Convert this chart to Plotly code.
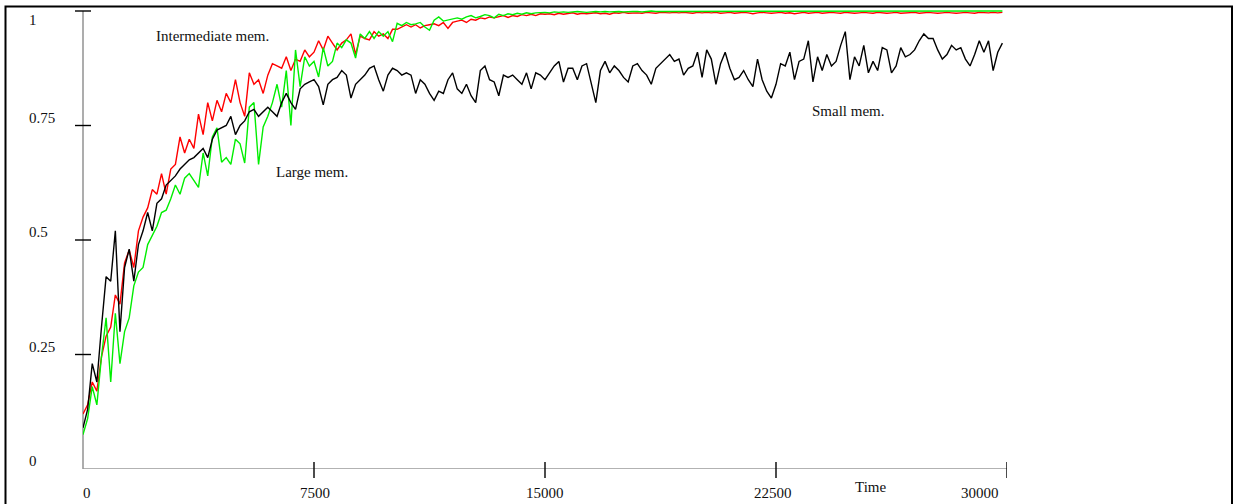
import plotly.graph_objects as go

# ---------------- data ----------------
STEP = 150
time = list(range(0, 30000, STEP))  # 200 sample times

small_mem = [
    0.09, 0.13, 0.23, 0.19, 0.31, 0.42, 0.41, 0.52, 0.30, 0.44,
    0.48, 0.41, 0.49, 0.52, 0.56, 0.52, 0.58, 0.59, 0.62, 0.63,
    0.64, 0.655, 0.665, 0.675, 0.68, 0.69, 0.70, 0.68, 0.72, 0.74,
    0.745, 0.75, 0.77, 0.73, 0.75, 0.76, 0.78, 0.785, 0.77, 0.78,
    0.79, 0.78, 0.77, 0.80, 0.82, 0.80, 0.785, 0.83, 0.84, 0.845,
    0.85, 0.835, 0.795, 0.84, 0.85, 0.855, 0.87, 0.86, 0.81, 0.84,
    0.85, 0.86, 0.875, 0.88, 0.85, 0.825, 0.86, 0.875, 0.87, 0.86,
    0.865, 0.86, 0.82, 0.85, 0.84, 0.82, 0.805, 0.825, 0.82, 0.85,
    0.865, 0.83, 0.82, 0.84, 0.815, 0.80, 0.87, 0.88, 0.85, 0.845,
    0.815, 0.86, 0.855, 0.86, 0.85, 0.84, 0.865, 0.83, 0.865, 0.86,
    0.85, 0.865, 0.88, 0.89, 0.845, 0.875, 0.875, 0.85, 0.88, 0.885,
    0.84, 0.80, 0.87, 0.89, 0.865, 0.88, 0.87, 0.855, 0.845, 0.88,
    0.885, 0.87, 0.86, 0.84, 0.875, 0.885, 0.895, 0.905, 0.89, 0.895,
    0.86, 0.875, 0.88, 0.91, 0.855, 0.915, 0.895, 0.84, 0.885, 0.91,
    0.875, 0.85, 0.855, 0.87, 0.85, 0.835, 0.895, 0.85, 0.825, 0.81,
    0.84, 0.885, 0.88, 0.91, 0.85, 0.89, 0.895, 0.935, 0.845, 0.90,
    0.87, 0.905, 0.88, 0.89, 0.925, 0.955, 0.85, 0.90, 0.88, 0.925,
    0.865, 0.89, 0.87, 0.92, 0.915, 0.865, 0.88, 0.92, 0.90, 0.905,
    0.915, 0.935, 0.95, 0.94, 0.94, 0.915, 0.895, 0.905, 0.925, 0.915,
    0.92, 0.895, 0.88, 0.905, 0.935, 0.91, 0.935, 0.87, 0.91, 0.93,
]

intermediate_mem = [
    0.12, 0.14, 0.19, 0.17, 0.245, 0.29, 0.31, 0.38, 0.36, 0.45,
    0.478, 0.44, 0.52, 0.55, 0.57, 0.61, 0.60, 0.645, 0.60, 0.655,
    0.665, 0.725, 0.69, 0.72, 0.70, 0.775, 0.73, 0.80, 0.76, 0.805,
    0.78, 0.82, 0.80, 0.85, 0.80, 0.77, 0.865, 0.84, 0.85, 0.82,
    0.86, 0.885, 0.88, 0.875, 0.90, 0.87, 0.895, 0.89, 0.915, 0.90,
    0.91, 0.935, 0.915, 0.945, 0.93, 0.915, 0.93, 0.937, 0.95, 0.905,
    0.945, 0.94, 0.937, 0.955, 0.945, 0.95, 0.94, 0.96, 0.96, 0.965,
    0.97, 0.965, 0.97, 0.963, 0.968, 0.97, 0.972, 0.968, 0.975, 0.962,
    0.975, 0.978, 0.98, 0.975, 0.982, 0.98, 0.985, 0.983, 0.987, 0.985,
    0.988, 0.99, 0.986, 0.99, 0.988, 0.992, 0.99, 0.993, 0.99, 0.994,
    0.993, 0.994, 0.992, 0.995, 0.993, 0.994, 0.996, 0.993, 0.995, 0.994,
    0.995, 0.996, 0.994, 0.995, 0.993, 0.996, 0.995, 0.997, 0.995, 0.996,
    0.996, 0.995, 0.997, 0.996, 0.995, 0.997, 0.996, 0.996, 0.997, 0.996,
    0.997, 0.996, 0.995, 0.997, 0.996, 0.997, 0.996, 0.997, 0.995, 0.996,
    0.997, 0.995, 0.996, 0.997, 0.996, 0.994, 0.996, 0.997, 0.996, 0.995,
    0.996, 0.997, 0.995, 0.996, 0.994, 0.996, 0.997, 0.995, 0.996, 0.997,
    0.995, 0.996, 0.997, 0.996, 0.995, 0.997, 0.996, 0.995, 0.996, 0.997,
    0.996, 0.995, 0.997, 0.996, 0.995, 0.996, 0.997, 0.995, 0.996, 0.996,
    0.997, 0.995, 0.996, 0.997, 0.996, 0.995, 0.996, 0.997, 0.996, 0.995,
    0.996, 0.997, 0.996, 0.995, 0.997, 0.996, 0.996, 0.997, 0.996, 0.997,
]

large_mem = [
    0.075, 0.11, 0.18, 0.14, 0.245, 0.33, 0.19, 0.34, 0.23, 0.30,
    0.33, 0.40, 0.43, 0.44, 0.49, 0.51, 0.53, 0.56, 0.565, 0.59,
    0.62, 0.60, 0.635, 0.645, 0.63, 0.615, 0.69, 0.64, 0.725, 0.745,
    0.67, 0.68, 0.665, 0.72, 0.71, 0.668, 0.79, 0.80, 0.665, 0.747,
    0.77, 0.80, 0.84, 0.79, 0.87, 0.75, 0.915, 0.835, 0.90, 0.88,
    0.89, 0.856, 0.92, 0.88, 0.89, 0.93, 0.92, 0.937, 0.93, 0.897,
    0.95, 0.94, 0.955, 0.94, 0.955, 0.945, 0.955, 0.933, 0.973, 0.968,
    0.975, 0.97, 0.972, 0.975, 0.965, 0.958, 0.98, 0.987, 0.978, 0.98,
    0.983, 0.985, 0.982, 0.987, 0.99, 0.985, 0.988, 0.992, 0.99, 0.985,
    0.993, 0.99, 0.994, 0.992, 0.995, 0.993, 0.996, 0.994, 0.996, 0.997,
    0.997, 0.996, 0.998, 0.997, 0.998, 0.997, 0.998, 0.999, 0.998, 0.997,
    0.998, 0.999, 0.998, 0.999, 0.998, 0.999, 0.999, 0.998, 0.999, 0.999,
    0.999, 0.998, 0.999, 1.0, 0.999, 0.999, 1.0, 0.999, 0.999, 1.0,
    0.999, 1.0, 0.999, 1.0, 1.0, 0.999, 1.0, 0.999, 1.0, 1.0,
    0.999, 1.0, 1.0, 0.999, 1.0, 1.0, 1.0, 0.999, 1.0, 1.0,
    1.0, 0.999, 1.0, 1.0, 1.0, 1.0, 0.999, 1.0, 1.0, 1.0,
    1.0, 1.0, 1.0, 0.999, 1.0, 1.0, 1.0, 1.0, 1.0, 1.0,
    1.0, 1.0, 1.0, 1.0, 1.0, 1.0, 1.0, 1.0, 1.0, 1.0,
    1.0, 1.0, 1.0, 1.0, 1.0, 1.0, 1.0, 1.0, 1.0, 1.0,
    1.0, 1.0, 1.0, 1.0, 1.0, 1.0, 1.0, 1.0, 1.0, 1.0,
]

x_tick_vals = [0, 7500, 15000, 22500, 30000]
x_tick_text = ["0", "7500", "15000", "22500", "30000"]
y_tick_vals = [0, 0.25, 0.5, 0.75, 1]
y_tick_text = ["0", "0.25", "0.5", "0.75", "1"]

series_labels = ["Intermediate mem.", "Large mem.", "Small mem."]
label_pos_t = [2300, 6200, 23600]
label_pos_v = [0.945, 0.648, 0.782]
x_title = "Time"

# ---------------- styling ----------------
FONT = "Liberation Serif, Times New Roman, serif"
FS = 15
x_label_shift = [4, 1, 0, -3, -27]

fig = go.Figure()
fig.add_trace(go.Scatter(x=time, y=intermediate_mem, mode="lines",
                         line=dict(color="#ff0000", width=1.4), name=series_labels[0]))
fig.add_trace(go.Scatter(x=time, y=large_mem, mode="lines",
                         line=dict(color="#00ee00", width=1.4), name=series_labels[1]))
fig.add_trace(go.Scatter(x=time, y=small_mem, mode="lines",
                         line=dict(color="#000000", width=1.4), name=series_labels[2]))

shapes = []
# axis lines
shapes.append(dict(type="line", xref="paper", yref="y", x0=0, x1=0, y0=0, y1=1,
                   line=dict(color="#999999", width=1.6), layer="below"))
shapes.append(dict(type="line", xref="x", yref="y", x0=0, x1=30000, y0=0, y1=0,
                   line=dict(color="#999999", width=1.6), layer="below"))
# y tick marks (cross the axis)
for v in y_tick_vals[1:]:
    shapes.append(dict(type="line", xref="paper", yref="y", x0=-8 / 924, x1=8 / 924,
                       y0=v, y1=v, line=dict(color="#000000", width=1.4)))
# x tick marks
for t in x_tick_vals[1:]:
    shapes.append(dict(type="line", xref="x", yref="paper", x0=t, x1=t,
                       y0=-9 / 467, y1=7 / 467, line=dict(color="#000000", width=1.4)))
# outer frame
shapes.append(dict(type="rect", xref="paper", yref="paper",
                   x0=(5.5 - 83) / 924, x1=(1232 - 83) / 924,
                   y0=(469 - 520) / 467, y1=(469 - 6.5) / 467,
                   line=dict(color="#000000", width=2), fillcolor="rgba(0,0,0,0)"))

ann = []
for v, txt in zip(y_tick_vals, y_tick_text):
    ann.append(dict(text=txt, xref="paper", yref="y", x=(27 - 83) / 924, y=v,
                    xanchor="left", yanchor="middle", yshift=(-9 if v == 1 else 8),
                    showarrow=False, font=dict(family=FONT, size=FS, color="#111111")))
for t, txt, sh in zip(x_tick_vals, x_tick_text, x_label_shift):
    ann.append(dict(text=txt, xref="x", yref="paper", x=t, y=0, xshift=sh, yshift=-24,
                    xanchor="center", yanchor="middle", showarrow=False,
                    font=dict(family=FONT, size=FS, color="#111111")))
ann.append(dict(text=x_title, xref="paper", yref="paper", x=(870 - 83) / 924, y=0,
                yshift=-18, xanchor="center", yanchor="middle", showarrow=False,
                font=dict(family=FONT, size=FS, color="#111111")))
for txt, t, v in zip(series_labels, label_pos_t, label_pos_v):
    ann.append(dict(text=txt, xref="x", yref="y", x=t, y=v, xanchor="left",
                    yanchor="middle", showarrow=False,
                    font=dict(family=FONT, size=FS, color="#111111")))

fig.update_layout(
    width=1234, height=504, autosize=False,
    margin=dict(l=83, r=227, t=2, b=35, pad=0),
    paper_bgcolor="white", plot_bgcolor="white",
    showlegend=False,
    xaxis=dict(range=[0, 30000], showgrid=False, zeroline=False, showline=False,
               showticklabels=False, ticks=""),
    yaxis=dict(range=[0, 467 / 458], showgrid=False, zeroline=False, showline=False,
               showticklabels=False, ticks=""),
    shapes=shapes, annotations=ann,
)

fig.write_html(
    "out.html",
    config={"displayModeBar": False},
    post_script="document.body.style.margin='0px';document.body.style.overflow='hidden';",
)
